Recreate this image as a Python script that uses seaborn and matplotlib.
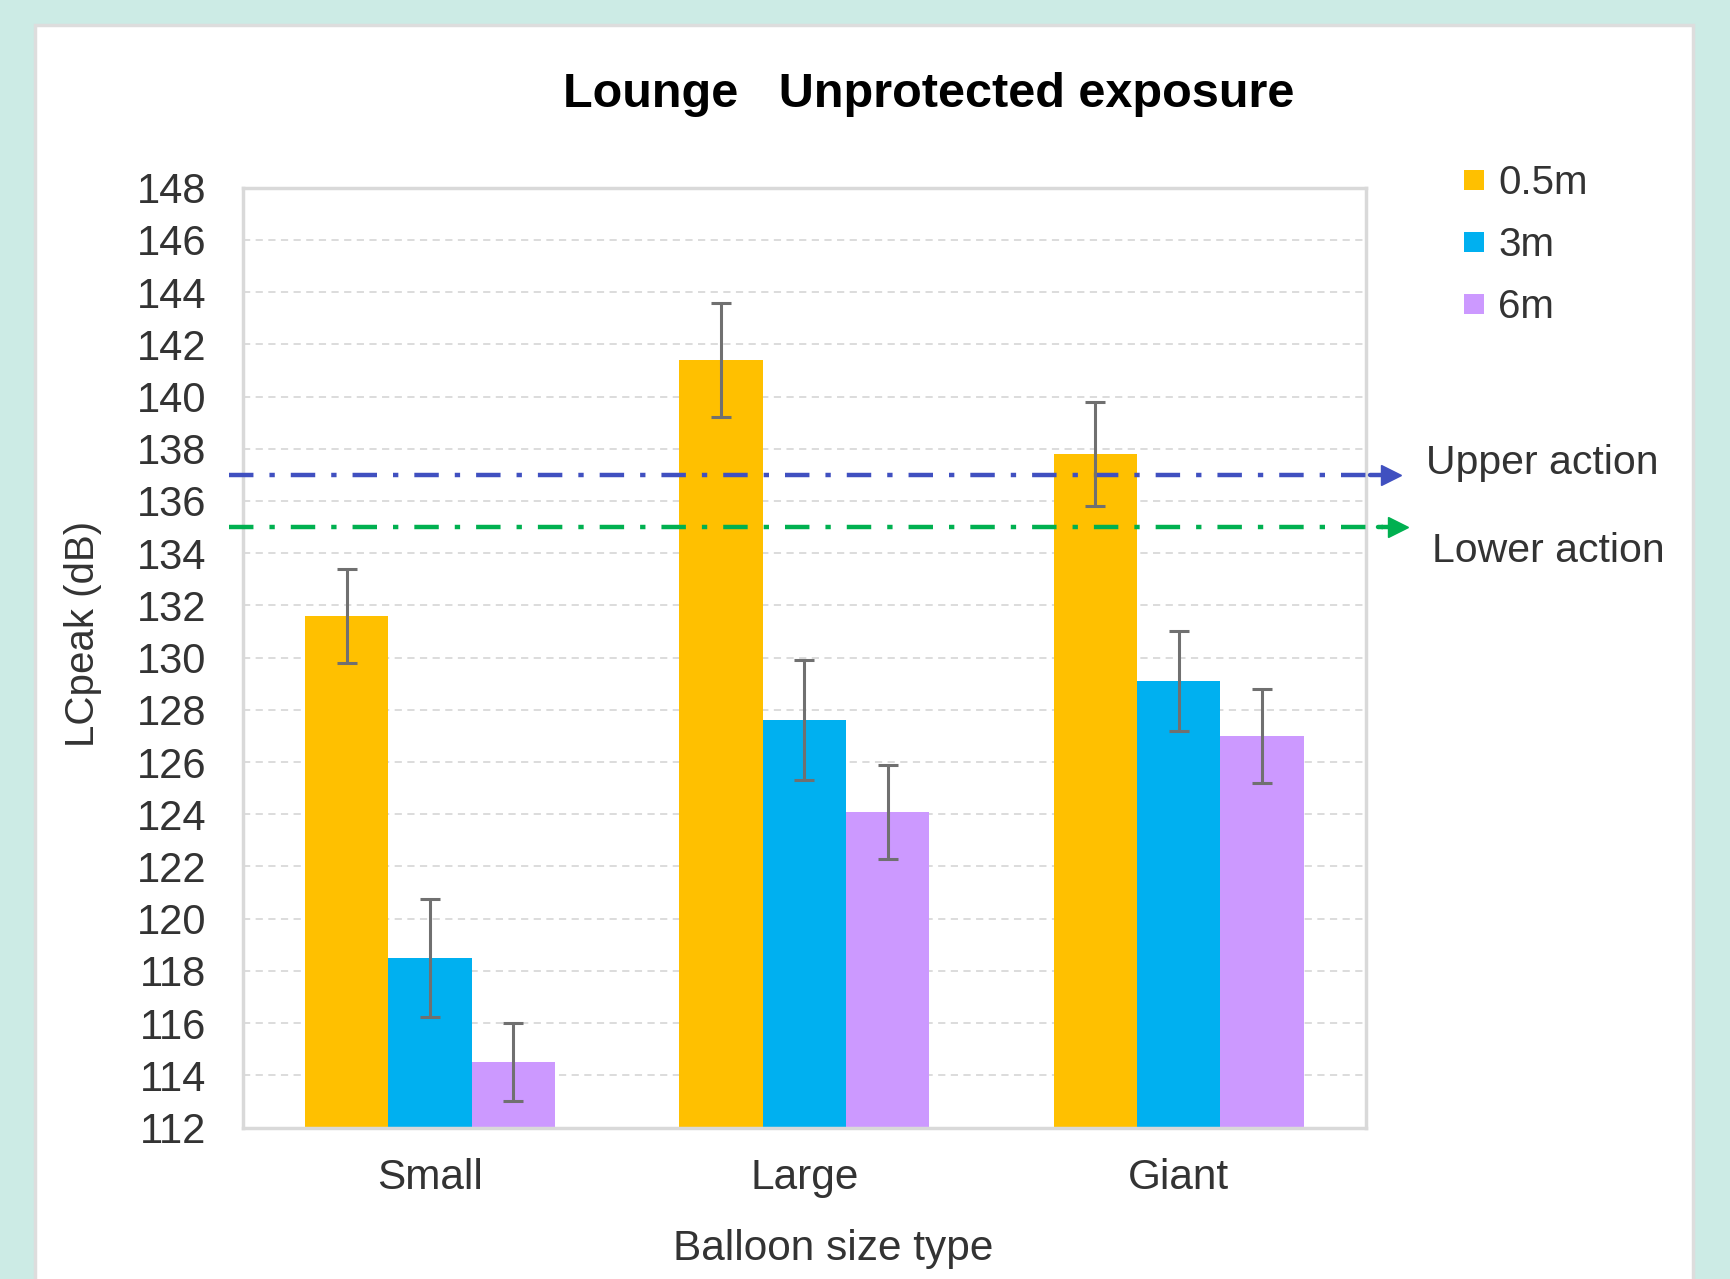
"""Lounge unprotected exposure: LCpeak by balloon size and distance."""
import matplotlib.pyplot as plt
import matplotlib.patches as mpatches
from matplotlib.lines import Line2D
import numpy as np
import pandas as pd
import seaborn as sns

sizes = ["Small", "Large", "Giant"]
distances = ["0.5m", "3m", "6m"]
# LCpeak (dB), one list per distance, in the order of sizes
peak_05 = [131.6, 141.4, 137.8]
peak_3 = [118.5, 127.6, 129.1]
peak_6 = [114.5, 124.1, 127.0]
err_05 = [1.8, 2.2, 2.0]
err_3 = [2.25, 2.3, 1.9]
err_6 = [1.5, 1.8, 1.8]
upper_action = 137
lower_action = 135

colors = ["#FFC000", "#00B0F0", "#CC99FF"]

sns.set_theme(style="white")
plt.rcParams["font.family"] = ["Liberation Sans", "DejaVu Sans"]

df = pd.DataFrame({
    "size": sizes * 3,
    "distance": np.repeat(distances, 3),
    "value": peak_05 + peak_3 + peak_6,
})
errors = [err_05, err_3, err_6]

fig = plt.figure(figsize=(17.3, 12.79), dpi=100)
fig.patch.set_facecolor("#CCEBE5")
fig.patches.append(mpatches.Rectangle(
    (0.0202, -0.02), 0.9584, 1.0005, transform=fig.transFigure,
    facecolor="white", edgecolor="#DDDDDD", linewidth=2.5, zorder=-10))

ax = fig.add_axes([0.1403, 0.1184, 0.6492, 0.7349])
ax.set_facecolor("white")
sns.barplot(data=df, x="size", y="value", hue="distance", palette=colors,
            width=0.667, saturation=1, errorbar=None, legend=False,
            linewidth=0, ax=ax)

for cont, err in zip(ax.containers, errors):
    xs = [b.get_x() + b.get_width() / 2 for b in cont]
    ys = [b.get_height() for b in cont]
    ax.errorbar(xs, ys, yerr=err, fmt="none", ecolor="#707070",
                elinewidth=2.2, capsize=7.5, capthick=2.2, zorder=5)

ax.set_xlim(-0.5, len(sizes) - 0.5)
ax.set_ylim(112, 148)
ax.set_yticks(np.arange(112, 149, 2))
ax.yaxis.grid(True, color="#D9D9D9", linestyle=(0, (4, 3)), linewidth=1.3)
ax.set_axisbelow(True)
for sp in ax.spines.values():
    sp.set_color("#D9D9D9")
    sp.set_linewidth(2.5)
ax.tick_params(axis="y", length=0, pad=26, labelsize=30, labelcolor="#333333")
ax.tick_params(axis="x", length=0, pad=22, labelsize=30.5, labelcolor="#333333")
ax.set_xlabel("")
ax.set_ylabel("")

# action level lines with arrowheads, running past the plot edges
trans = ax.get_yaxis_transform()
for yv, col, x_end in [(upper_action, "#4050C0", 1.02), (lower_action, "#00B050", 1.027)]:
    ln, = ax.plot([-0.012, x_end - 0.012], [yv, yv], color=col, linewidth=3.2,
                  transform=trans, clip_on=False, zorder=4)
    ln.set_dashes((5.5, 3.6, 1.2, 3.6))
    ax.plot([x_end - 0.016, x_end], [yv, yv], color=col, linewidth=3.2,
            transform=trans, clip_on=False, zorder=4)
    ax.plot([x_end + 0.002], [yv], marker=">", markersize=14, color=col,
            transform=trans, clip_on=False, zorder=4, linestyle="none")

fig.text(0.537, 0.9265, "Lounge   Unprotected exposure", ha="center", va="center",
         fontsize=35, fontweight="bold", color="black")
fig.text(0.0478, 0.504, "LCpeak (dB)", ha="center", va="center", rotation=90,
         fontsize=29, color="#333333")
fig.text(0.4815, 0.0235, "Balloon size type", ha="center", va="center",
         fontsize=30.5, color="#333333")
fig.text(0.8245, 0.638, "Upper action", ha="left", va="center",
         fontsize=29.5, color="#333333")
fig.text(0.8278, 0.569, "Lower action", ha="left", va="center",
         fontsize=29.5, color="#333333")

handles = [Line2D([], [], marker="s", linestyle="none", markersize=15,
                  markerfacecolor=c, markeredgewidth=0) for c in colors]
fig.legend(handles, distances, loc="upper left", bbox_to_anchor=(0.824, 0.9),
           frameon=False, fontsize=29, handlelength=0.6, handletextpad=0.3,
           labelspacing=0.6, labelcolor="#333333")

fig.savefig("out.png", dpi=100, facecolor=fig.get_facecolor())
